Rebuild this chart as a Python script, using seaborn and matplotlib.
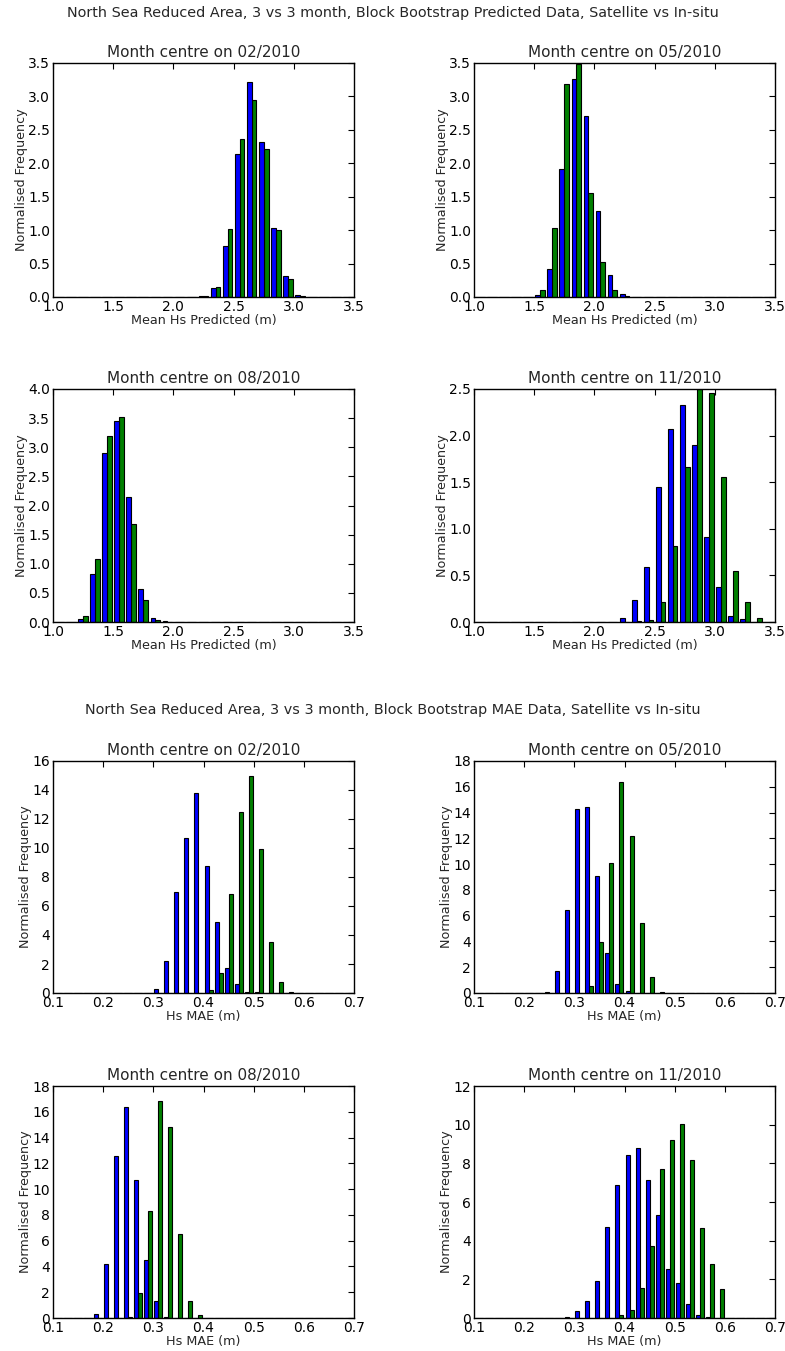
import numpy as np
import pandas as pd
import matplotlib.pyplot as plt
import seaborn as sns

# Panel months and data sources
months = ['02/2010', '05/2010', '08/2010', '11/2010']
sources = ['Satellite', 'In-situ']

# Bin schemes (left edges): predicted Hs 1.0-3.5 by 0.1, MAE 0.1-0.7 by 0.02
pred_edges = np.round(np.arange(1.0, 3.5, 0.1), 3)
mae_edges = np.round(np.arange(0.1, 0.7, 0.02), 3)

# Normalised frequency per bin, predicted Hs (25 bins)
pred_sat_02 = [0, 0, 0, 0, 0, 0, 0, 0, 0, 0, 0, 0, 0.01, 0.14, 0.77, 2.14, 3.22, 2.32, 1.03, 0.31, 0.03, 0, 0, 0, 0]
pred_ins_02 = [0, 0, 0, 0, 0, 0, 0, 0, 0, 0, 0, 0, 0.02, 0.15, 1.01, 2.36, 2.94, 2.21, 1.00, 0.27, 0.02, 0, 0, 0, 0]
pred_sat_05 = [0, 0, 0, 0, 0, 0.03, 0.42, 1.92, 3.26, 2.71, 1.28, 0.33, 0.04, 0, 0, 0, 0, 0, 0, 0, 0, 0, 0, 0, 0]
pred_ins_05 = [0, 0, 0, 0, 0, 0.10, 1.03, 3.19, 3.48, 1.55, 0.52, 0.11, 0.01, 0, 0, 0, 0, 0, 0, 0, 0, 0, 0, 0, 0]
pred_sat_08 = [0, 0, 0.05, 0.83, 2.90, 3.45, 2.15, 0.57, 0.07, 0.01, 0, 0, 0, 0, 0, 0, 0, 0, 0, 0, 0, 0, 0, 0, 0]
pred_ins_08 = [0, 0, 0.11, 1.09, 3.19, 3.52, 1.68, 0.38, 0.04, 0, 0, 0, 0, 0, 0, 0, 0, 0, 0, 0, 0, 0, 0, 0, 0]
pred_sat_11 = [0, 0, 0, 0, 0, 0, 0, 0, 0, 0, 0, 0, 0.04, 0.24, 0.59, 1.45, 2.07, 2.33, 1.90, 0.91, 0.38, 0.06, 0.03, 0, 0]
pred_ins_11 = [0, 0, 0, 0, 0, 0, 0, 0, 0, 0, 0, 0, 0, 0.01, 0.02, 0.21, 0.82, 1.66, 2.50, 2.46, 1.56, 0.55, 0.21, 0.04, 0]

# Normalised frequency per bin, Hs MAE (30 bins)
mae_sat_02 = [0, 0, 0, 0, 0, 0, 0, 0, 0, 0, 0.30, 2.2, 6.95, 10.7, 13.8, 8.75, 4.9, 1.75, 0.6, 0.1, 0.05, 0, 0, 0, 0, 0, 0, 0, 0, 0]
mae_ins_02 = [0, 0, 0, 0, 0, 0, 0, 0, 0, 0, 0, 0, 0, 0, 0, 0.2, 1.35, 6.8, 12.5, 15.0, 9.95, 3.55, 0.75, 0.1, 0, 0, 0, 0, 0, 0]
mae_sat_05 = [0, 0, 0, 0, 0, 0, 0, 0.1, 1.7, 6.45, 14.3, 14.4, 9.05, 3.1, 0.7, 0.15, 0, 0, 0, 0, 0, 0, 0, 0, 0, 0, 0, 0, 0, 0]
mae_ins_05 = [0, 0, 0, 0, 0, 0, 0, 0, 0, 0, 0, 0.55, 3.95, 10.1, 16.4, 12.2, 5.4, 1.25, 0.05, 0, 0, 0, 0, 0, 0, 0, 0, 0, 0, 0]
mae_sat_08 = [0, 0, 0, 0, 0.3, 4.2, 12.55, 16.35, 10.7, 4.5, 1.35, 0.1, 0, 0, 0, 0, 0, 0, 0, 0, 0, 0, 0, 0, 0, 0, 0, 0, 0, 0]
mae_ins_08 = [0, 0, 0, 0, 0, 0, 0, 0.05, 1.95, 8.3, 16.8, 14.8, 6.5, 1.3, 0.2, 0, 0, 0, 0, 0, 0, 0, 0, 0, 0, 0, 0, 0, 0, 0]
mae_sat_11 = [0, 0, 0, 0, 0, 0, 0, 0, 0, 0.05, 0.35, 0.9, 1.9, 4.7, 6.9, 8.45, 8.8, 7.15, 5.35, 2.55, 1.8, 0.7, 0.15, 0.05, 0, 0, 0, 0, 0, 0]
mae_ins_11 = [0, 0, 0, 0, 0, 0, 0, 0, 0, 0, 0, 0, 0, 0, 0.15, 0.4, 1.55, 3.75, 7.7, 9.2, 10.05, 8.15, 4.65, 2.8, 1.5, 0, 0, 0, 0, 0]

pred_sat = [pred_sat_02, pred_sat_05, pred_sat_08, pred_sat_11]
pred_ins = [pred_ins_02, pred_ins_05, pred_ins_08, pred_ins_11]
mae_sat = [mae_sat_02, mae_sat_05, mae_sat_08, mae_sat_11]
mae_ins = [mae_ins_02, mae_ins_05, mae_ins_08, mae_ins_11]

pred_ymax = [3.5, 3.5, 4.0, 2.5]
mae_ymax = [16, 18, 18, 12]

sns.set_style('white')
plt.rcParams.update({
    'font.family': ['DejaVu Sans'],
    'xtick.direction': 'in', 'ytick.direction': 'in',
    'xtick.top': True, 'ytick.right': True,
    'xtick.major.size': 4, 'ytick.major.size': 4,
    'xtick.color': 'black', 'ytick.color': 'black',
    'axes.edgecolor': 'black', 'axes.linewidth': 1.0,
})

fig = plt.figure(figsize=(7.85, 13.51), dpi=100)
H = 1351.0
W = 785.0
col_left = [53, 474]
row_span = [(63, 297), (389, 622), (761, 993), (1086, 1318)]


def panel(ax, edges, binw, sat, ins, month, ymax, xlabel, xlim, xstep, ystep, yfmt):
    centers = edges + binw / 2
    df = pd.DataFrame({
        'x': np.concatenate([centers, centers]),
        'w': np.concatenate([sat, ins]),
        'src': [sources[0]] * len(centers) + [sources[1]] * len(centers),
    })
    sns.histplot(data=df, x='x', weights='w', hue='src', hue_order=sources,
                 stat='count', binwidth=binw, binrange=xlim, multiple='dodge',
                 shrink=0.8, palette=['#0000ff', '#008000'], alpha=1,
                 edgecolor='black', linewidth=0.8, legend=False, ax=ax)
    ax.set_xlim(*xlim)
    ax.set_ylim(0, ymax)
    ax.set_xticks(np.arange(xlim[0], xlim[1] + xstep / 2, xstep))
    ax.set_yticks(np.arange(0, ymax + ystep / 2, ystep))
    ax.xaxis.set_major_formatter(plt.FormatStrFormatter('%.1f'))
    ax.yaxis.set_major_formatter(plt.FormatStrFormatter(yfmt))
    ax.tick_params(labelsize=10, pad=2)
    ax.set_title('Month centre on ' + month, fontsize=11, pad=4)
    ax.set_xlabel(xlabel, fontsize=9.2, labelpad=0)
    ax.set_ylabel('Normalised Frequency', fontsize=9.2, labelpad=0.5)


for i, month in enumerate(months):
    r, c = divmod(i, 2)
    # predicted Hs (top half)
    top, bot = row_span[r]
    ax = fig.add_axes([col_left[c] / W, 1 - bot / H, 301 / W, (bot - top) / H])
    panel(ax, pred_edges, 0.1, pred_sat[i], pred_ins[i], month, pred_ymax[i],
          'Mean Hs Predicted (m)', (1.0, 3.5), 0.5, 0.5, '%.1f')
    # MAE (bottom half)
    top, bot = row_span[r + 2]
    ax = fig.add_axes([col_left[c] / W, 1 - bot / H, 301 / W, (bot - top) / H])
    panel(ax, mae_edges, 0.02, mae_sat[i], mae_ins[i], month, mae_ymax[i],
          'Hs MAE (m)', (0.1, 0.7), 0.1, 2, '%d')

fig.text(0.5, 1 - 13 / H,
         'North Sea Reduced Area, 3 vs 3 month, Block Bootstrap Predicted Data, Satellite vs In-situ',
         ha='center', va='center', fontsize=10.4)
fig.text(0.5, 1 - 710 / H,
         'North Sea Reduced Area, 3 vs 3 month, Block Bootstrap MAE Data, Satellite vs In-situ',
         ha='center', va='center', fontsize=10.4)

fig.savefig('out.png', dpi=100)
